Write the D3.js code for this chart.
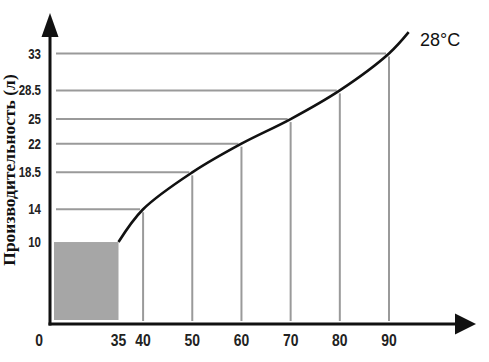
<!DOCTYPE html>
<html>
<head>
<meta charset="utf-8">
<script src="https://cdn.jsdelivr.net/npm/d3@7"></script>
<style>
  html, body { margin: 0; padding: 0; background: #fff; }
  svg { display: block; }
</style>
</head>
<body>
<div id="chart"></div>
<script>
// Кривая производительности при 28°C
const temps = [35, 40, 50, 60, 70, 80, 90, 94];
const outputs = [10, 14, 18.5, 22, 25, 28.5, 33, 35.6];

const xTicks = [0, 35, 40, 50, 60, 70, 80, 90];
const yTicks = [10, 14, 18.5, 22, 25, 28.5, 33];
const gridPoints = [
    { t: 40, v: 14 }, { t: 50, v: 18.5 }, { t: 60, v: 22 },
    { t: 70, v: 25 }, { t: 80, v: 28.5 }, { t: 90, v: 33 }
];
const seriesLabel = '28°C';
const yTitle = 'Производительность (л)';

const W = 489, H = 362;

const svg = d3.select('#chart').append('svg')
    .attr('width', W).attr('height', H);

// ось X разорвана между 0 и 35
const x = d3.scaleLinear()
    .domain([0, 35, 90])
    .range([50, 118.5, 389]);
const y = d3.scaleLinear()
    .domain([0, 33])
    .range([324, 53.5]);

const gridColor = '#9a9a9a';
const labelFont = 'Liberation Sans, Arial, sans-serif';

// серый прямоугольник 0..35 / 0..10
svg.append('rect')
    .attr('x', x(0) + 4).attr('y', y(10))
    .attr('width', x(35) - x(0) - 4)
    .attr('height', y(0) - y(10) - 4)
    .attr('fill', '#a6a6a6');

// горизонтальные линии до кривой
svg.selectAll('.hgrid')
    .data(gridPoints)
    .join('line')
    .attr('x1', 56).attr('x2', d => x(d.t) - 3)
    .attr('y1', d => y(d.v)).attr('y2', d => y(d.v))
    .attr('stroke', gridColor).attr('stroke-width', 2);

// вертикальные линии от кривой до оси
svg.selectAll('.vgrid')
    .data(gridPoints)
    .join('line')
    .attr('x1', d => x(d.t)).attr('x2', d => x(d.t))
    .attr('y1', d => y(d.v) + 3).attr('y2', y(0) - 3)
    .attr('stroke', gridColor).attr('stroke-width', 2);

// кривая
const line = d3.line()
    .x(d => x(d))
    .y((d, i) => y(outputs[i]))
    .curve(d3.curveCatmullRom.alpha(0.5));

svg.append('path')
    .datum(temps)
    .attr('fill', 'none')
    .attr('stroke', '#111')
    .attr('stroke-width', 2.6)
    .attr('d', line);

// оси со стрелками
const axisColor = '#111';
svg.append('line')
    .attr('x1', 50).attr('x2', 50)
    .attr('y1', y(0) + 1.5).attr('y2', 30)
    .attr('stroke', axisColor).attr('stroke-width', 3);
svg.append('path')
    .attr('d', 'M50,13 L41.5,37 L58.5,37 Z')
    .attr('fill', axisColor);

svg.append('line')
    .attr('x1', 48.5).attr('x2', 460)
    .attr('y1', y(0)).attr('y2', y(0))
    .attr('stroke', axisColor).attr('stroke-width', 3);
svg.append('path')
    .attr('d', `M476,${y(0)} L455,${y(0) - 10.5} L455,${y(0) + 10.5} Z`)
    .attr('fill', axisColor);

// подписи (узкое начертание — сжатием по горизонтали)
svg.selectAll('.ylab')
    .data(yTicks)
    .join('text')
    .attr('transform', d => `translate(41,${y(d)}) scale(0.82,1)`)
    .attr('dy', '0.36em')
    .attr('text-anchor', 'end')
    .attr('font-family', labelFont)
    .attr('font-weight', 'bold').attr('font-size', 14)
    .attr('fill', '#222')
    .text(d => d);

svg.selectAll('.xlab')
    .data(xTicks)
    .join('text')
    .attr('transform', d => `translate(${d === 0 ? 39 : x(d)},340) scale(0.82,1)`)
    .attr('dy', '0.36em')
    .attr('text-anchor', 'middle')
    .attr('font-family', labelFont)
    .attr('font-weight', 'bold').attr('font-size', 17)
    .attr('fill', '#222')
    .text(d => d);

svg.append('text')
    .attr('x', 420).attr('y', 46)
    .attr('font-family', 'Liberation Sans, Arial, sans-serif')
    .attr('font-size', 18)
    .attr('fill', '#111')
    .text(seriesLabel);

svg.append('text')
    .attr('transform', 'translate(15,170) rotate(-90)')
    .attr('text-anchor', 'middle')
    .attr('font-family', 'Liberation Serif, Times New Roman, serif')
    .attr('font-weight', 'bold').attr('font-size', 17.5)
    .attr('fill', '#111')
    .text(yTitle);
</script>
</body>
</html>
